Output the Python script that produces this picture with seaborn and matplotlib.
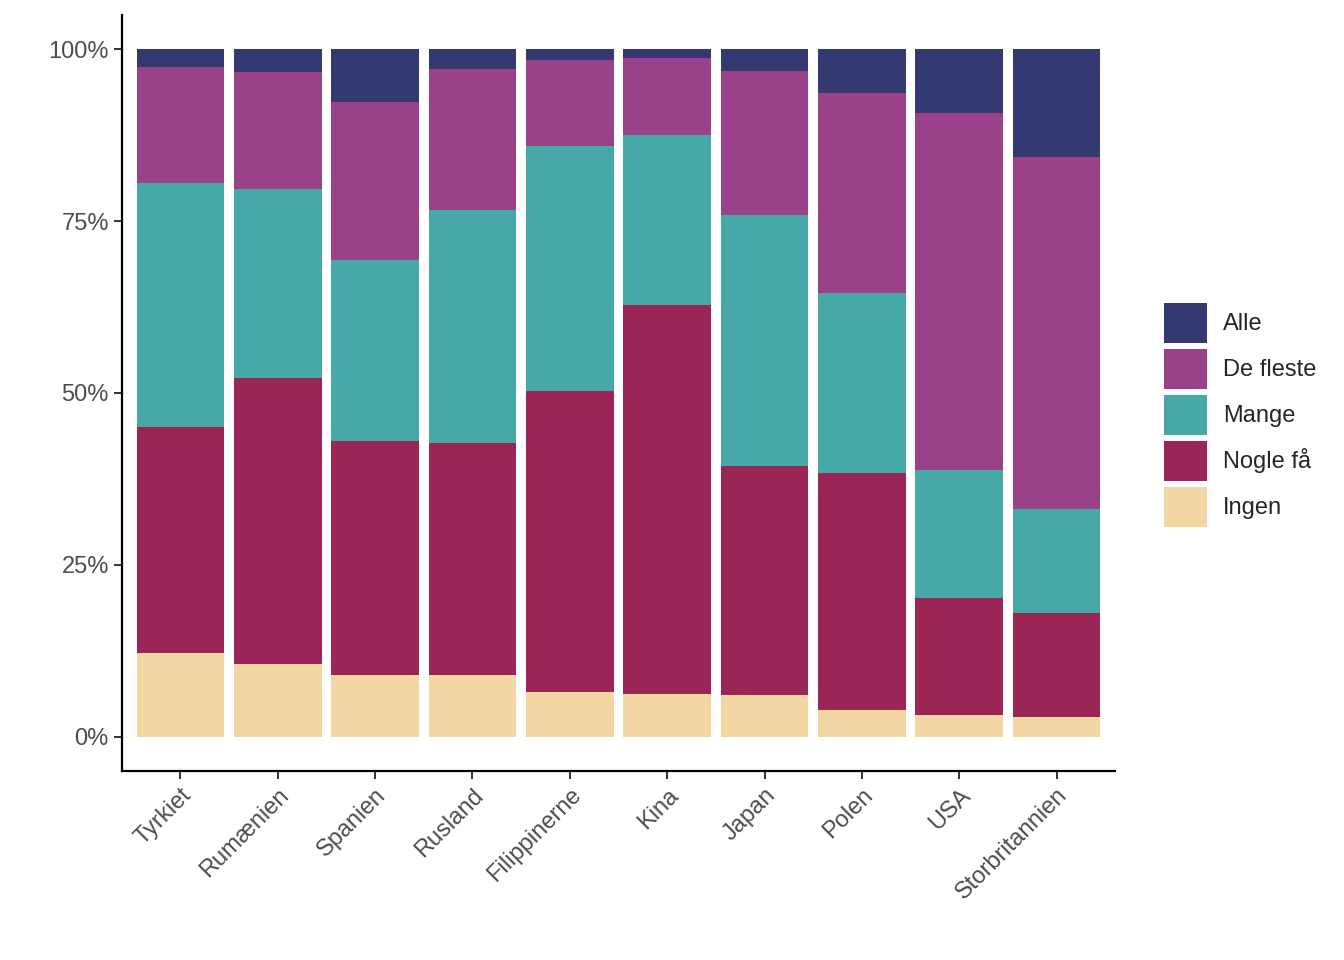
import numpy as np
import pandas as pd
import matplotlib
matplotlib.use("Agg")
import matplotlib.pyplot as plt
import matplotlib.patches as mpatches
from matplotlib.ticker import FuncFormatter
import seaborn as sns

# data (percent of respondents)
countries = ["Tyrkiet", "Rumænien", "Spanien", "Rusland", "Filippinerne",
             "Kina", "Japan", "Polen", "USA", "Storbritannien"]
ingen = [12.2, 10.6, 9.0, 8.9, 6.5, 6.2, 6.1, 3.9, 3.2, 2.8]
nogle_faa = [32.9, 41.6, 34.0, 33.8, 43.8, 56.6, 33.3, 34.5, 17.0, 15.2]
mange = [35.4, 27.5, 26.3, 33.9, 35.7, 24.8, 36.5, 26.1, 18.6, 15.1]
de_fleste = [16.9, 17.0, 23.1, 20.6, 12.5, 11.2, 20.9, 29.1, 52.0, 51.2]
alle = [2.6, 3.3, 7.6, 2.8, 1.5, 1.2, 3.2, 6.4, 9.2, 15.7]

levels = ["Alle", "De fleste", "Mange", "Nogle få", "Ingen"]
colors = ["#343972", "#9a4289", "#46a9a8", "#992654", "#f2d7a5"]

df = pd.DataFrame({"land": countries, "Ingen": ingen, "Nogle få": nogle_faa,
                   "Mange": mange, "De fleste": de_fleste, "Alle": alle})
vals = df[levels[::-1]].to_numpy()
df[levels[::-1]] = vals / vals.sum(axis=1, keepdims=True) * 100

sns.set_style("white")
plt.rcParams["font.family"] = ["Liberation Sans", "DejaVu Sans"]

fig = plt.figure(figsize=(13.44, 9.6), dpi=100)
ax = fig.add_axes([0.0908, 0.1969, 0.7388, 0.7875])

# stacked bars: draw cumulative sums, tallest first
cum = np.zeros(len(df))
tops = {}
for lev in levels[::-1]:
    cum = cum + df[lev].to_numpy()
    tops[lev] = cum.copy()
for lev, col in zip(levels, colors):
    sns.barplot(x=df["land"], y=tops[lev], color=col, width=0.9,
                saturation=1, ax=ax, linewidth=0)

ax.set_xlim(-0.6, len(countries) - 0.4)
ax.set_ylim(-5, 105)
ax.set_yticks([0, 25, 50, 75, 100])
ax.yaxis.set_major_formatter(FuncFormatter(lambda v, p: f"{v:.0f}%"))
ax.set_xlabel("")
ax.set_ylabel("")
for s in ["top", "right"]:
    ax.spines[s].set_visible(False)
for s in ["left", "bottom"]:
    ax.spines[s].set_linewidth(1.6)
    ax.spines[s].set_color("black")
ax.tick_params(axis="both", direction="out", length=6, width=1.4,
               color="#333333", labelsize=17, labelcolor="#4d4d4d")
ax.tick_params(axis="both", which="both", left=True, bottom=True)
plt.setp(ax.get_xticklabels(), rotation=45, ha="right", rotation_mode="anchor")

handles = [mpatches.Patch(facecolor=c, edgecolor="none", label=l)
           for l, c in zip(levels, colors)]
fig.legend(handles=handles, loc="center left", bbox_to_anchor=(0.857, 0.568),
           frameon=False, fontsize=17, handlelength=1.82, handleheight=2.23,
           labelspacing=0.25, handletextpad=0.68, borderpad=0)

fig.savefig("out.png", dpi=100, facecolor="white")
